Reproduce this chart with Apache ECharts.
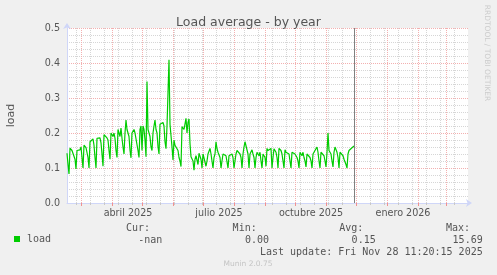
<!DOCTYPE html>
<html><head><meta charset="utf-8">
<script src="https://cdn.jsdelivr.net/npm/echarts@6/dist/echarts.min.js"></script>
<style>html,body{margin:0;padding:0;background:#f0f0f0}#c{width:497px;height:275px}</style>
</head><body><div id="c"></div>
<script>
// ---- data ----
const startDate = '2025-02-14';          // first daily sample
const loadValues = [
  0.142,0.11,0.083,0.157,0.155,0.15,0.152,0.145,0.125,0.097,
  0.15,0.155,0.148,0.152,0.16,0.13,0.1,0.165,0.17,0.158,
  0.16,0.13,0.1,0.175,0.18,0.17,0.183,0.165,0.13,0.1,
  0.185,0.19,0.18,0.186,0.172,0.14,0.105,0.195,0.19,0.198,
  0.186,0.18,0.15,0.125,0.2,0.195,0.19,0.2,0.185,0.15,
  0.13,0.21,0.2,0.19,0.214,0.185,0.16,0.14,0.2,0.237,
  0.21,0.2,0.19,0.151,0.129,0.2,0.205,0.21,0.2,0.205,
  0.195,0.15,0.13,0.21,0.22,0.15,0.22,0.21,0.18,0.132,
  0.347,0.21,0.205,0.19,0.16,0.15,0.2,0.22,0.237,0.21,
  0.2,0.161,0.14,0.225,0.23,0.225,0.23,0.22,0.175,0.155,
  0.22,0.225,0.409,0.225,0.22,0.16,0.123,0.18,0.165,0.17,
  0.16,0.15,0.13,0.12,0.104,0.218,0.22,0.21,0.215,0.242,
  0.2,0.23,0.24,0.17,0.132,0.13,0.12,0.094,0.125,0.135,
  0.14,0.11,0.142,0.145,0.125,0.1,0.14,0.142,0.14,0.105,
  0.12,0.14,0.145,0.156,0.14,0.12,0.1,0.13,0.14,0.175,
  0.155,0.145,0.15,0.13,0.1,0.1,0.14,0.135,0.14,0.135,
  0.13,0.1,0.135,0.14,0.135,0.14,0.13,0.1,0.12,0.14,
  0.15,0.148,0.145,0.14,0.13,0.1,0.14,0.16,0.175,0.17,
  0.175,0.14,0.1,0.14,0.145,0.152,0.14,0.13,0.1,0.13,
  0.145,0.14,0.135,0.145,0.12,0.1,0.14,0.142,0.13,0.105,
  0.156,0.15,0.155,0.148,0.156,0.1,0.13,0.155,0.156,0.145,
  0.13,0.1,0.156,0.155,0.15,0.14,0.135,0.1,0.152,0.145,
  0.14,0.15,0.14,0.12,0.1,0.145,0.15,0.145,0.14,0.135,
  0.13,0.12,0.1,0.145,0.14,0.135,0.145,0.13,0.12,0.103,
  0.14,0.145,0.14,0.13,0.12,0.1,0.14,0.145,0.15,0.155,
  0.16,0.145,0.12,0.1,0.145,0.147,0.14,0.135,0.12,0.103,
  0.145,0.2,0.15,0.145,0.14,0.12,0.103,0.145,0.16,0.155,
  0.145,0.13,0.1,0.145,0.15,0.14,0.135,0.125,0.12,0.11,
  0.1,0.14,0.15,0.152,0.155,0.158,0.161,0.163
];
const axisStart = '2025-02-14';
const axisEnd = '2026-03-22';
const nowDate = '2025-11-28';
const monthStarts = ['2025-03-01','2025-04-01','2025-05-01','2025-06-01','2025-07-01','2025-08-01',
  '2025-09-01','2025-10-01','2025-11-01','2025-12-01','2026-01-01','2026-02-01','2026-03-01'];
const gridMondays = ['2025-02-24','2025-03-10','2025-03-24','2025-04-07','2025-04-21','2025-05-05',
  '2025-05-19','2025-06-02','2025-06-16','2025-06-30','2025-07-14','2025-07-28','2025-08-11',
  '2025-08-25','2025-09-08','2025-09-22','2025-10-06','2025-10-20','2025-11-03','2025-11-17',
  '2025-12-15','2025-12-29','2026-01-12','2026-01-26','2026-02-09','2026-02-23','2026-03-09'];
const labelDates = ['2025-04-16','2025-07-16','2025-10-16','2026-01-16'];
const labelTexts = ['abril 2025','julio 2025','octubre 2025','enero 2026'];
const yTicks = [0, 0.1, 0.2, 0.3, 0.4, 0.5];
const statHeads = ['Cur:','Min:','Avg:','Max:'];
const statValues = ['-nan','0.00','0.15','15.69'];
const lastUpdate = 'Last update: Fri Nov 28 11:20:15 2025';

// ---- helpers ----
const H = 3600e3, DAY = 24 * H;
const ts = s => Date.parse(s);
const xMin = ts(axisStart) + 12 * H;
const xMax = ts(axisEnd) + 12 * H;
const seriesData = loadValues.map((v, i) => [ts(startDate) + i * DAY + 12 * H, v]);
const labelTs = labelDates.map(s => ts(s) + 12 * H);
const nowTs = ts(nowDate) + 11.33 * H;

const chart = echarts.init(document.getElementById('c'), null, {renderer: 'canvas'});
const FONT = 'DejaVu Sans';
const MONO = 'DejaVu Sans Mono';
const AXISC = '#cfd6f8';
const MAJ = '#f3b0b0';
const MIN = '#d6d6d6';

const statX = [150, 256.7, 363.3, 470];
const valX = [162.3, 269, 375.7, 482.7];
const graphics = [];
statHeads.forEach((t, i) => graphics.push({type: 'text', silent: true,
  style: {text: t, x: statX[i], y: 228, textAlign: 'right', textVerticalAlign: 'middle',
    font: '10px "' + MONO + '"', fill: '#555'}}));
statValues.forEach((t, i) => graphics.push({type: 'text', silent: true,
  style: {text: t, x: valX[i], y: 240, textAlign: 'right', textVerticalAlign: 'middle',
    font: '10px "' + MONO + '"', fill: '#555'}}));
graphics.push({type: 'text', silent: true,
  style: {text: lastUpdate, x: 482.7, y: 252, textAlign: 'right', textVerticalAlign: 'middle',
    font: '10px "' + MONO + '"', fill: '#555'}});
graphics.push({type: 'text', silent: true,
  style: {text: 'Munin 2.0.75', x: 248, y: 264, textAlign: 'center', textVerticalAlign: 'middle',
    font: '7.5px "' + FONT + '"', fill: '#c4c4c4'}});
graphics.push({type: 'text', silent: true, x: 487.3, y: 53, rotation: -Math.PI / 2,
  style: {text: 'RRDTOOL / TOBI OETIKER', x: 0, y: 0, textAlign: 'center', textVerticalAlign: 'middle',
    font: '7.5px "' + FONT + '"', fill: '#cccccc'}});

chart.setOption({
  animation: false,
  backgroundColor: '#f0f0f0',
  title: {text: 'Load average - by year', left: 'center', top: 11,
    textStyle: {fontFamily: FONT, fontSize: 12.5, fontWeight: 'normal', color: '#555'}},
  legend: {data: ['load'], left: 14, top: 234, padding: 0, icon: 'rect', itemWidth: 6, itemHeight: 6,
    textStyle: {fontFamily: MONO, fontSize: 10, color: '#555', padding: [0, 0, 0, 2]}},
  grid: {left: 67, top: 28, width: 401, height: 175, show: true, backgroundColor: '#ffffff', borderWidth: 0,
    containLabel: false, outerBoundsMode: 'none'},
  xAxis: [
    {type: 'value', position: 'bottom', min: xMin, max: xMax, gridIndex: 0,
      axisLine: {show: false},
      axisTick: {show: true, customValues: gridMondays.map(ts), length: 2, lineStyle: {color: '#c8c8c8'}},
      axisLabel: {show: false},
      splitLine: {show: true, lineStyle: {color: MIN, width: 1, type: [1, 1]}}},
    {type: 'value', position: 'bottom', min: xMin, max: xMax, gridIndex: 0,
      axisLine: {show: true, onZero: false, lineStyle: {color: AXISC, width: 1}, symbol: ['none', 'arrow'],
        symbolSize: [6, 6], symbolOffset: [0, 4]},
      axisTick: {show: true, customValues: monthStarts.map(ts), length: 3, lineStyle: {color: '#f09090'}},
      axisLabel: {show: true, customValues: labelTs, margin: 5, fontFamily: FONT, fontSize: 9.6, color: '#555',
        formatter: (v) => {
          let best = -1, bd = Infinity;
          labelTs.forEach((t, i) => { const d = Math.abs(t - v); if (d < bd) { bd = d; best = i; } });
          return bd < DAY ? labelTexts[best] : '';
        }},
      splitLine: {show: true, lineStyle: {color: MAJ, width: 1, type: [1, 1]}}}
  ],
  yAxis: {type: 'value', min: yTicks[0], max: yTicks[yTicks.length - 1], interval: 0.1,
    name: 'load', nameLocation: 'middle', nameRotate: 90, nameGap: 50,
    nameTextStyle: {fontFamily: FONT, fontSize: 11, color: '#555'},
    axisLine: {show: true, lineStyle: {color: AXISC, width: 1}, symbol: ['none', 'arrow'],
      symbolSize: [6, 6], symbolOffset: [0, 5]},
    axisTick: {show: false},
    axisLabel: {margin: 7, fontFamily: FONT, fontSize: 9.6, color: '#555', formatter: v => v.toFixed(1)},
    splitLine: {show: true, lineStyle: {color: MAJ, width: 1, type: [1, 1]}},
    minorTick: {show: false, splitNumber: 5},
    minorSplitLine: {show: true, lineStyle: {color: MIN, width: 1, type: [1, 1]}}},
  series: [{
    name: 'load', type: 'line', xAxisIndex: 1, data: seriesData, showSymbol: false, symbol: 'none',
    color: '#00cc00', lineStyle: {color: '#00cc00', width: 1.2}, clip: true, z: 5,
    markLine: {silent: true, symbol: ['none', 'none'], label: {show: false}, z: 6,
      lineStyle: {color: '#808080', width: 1, type: 'solid'},
      emphasis: {disabled: true},
      data: [{xAxis: nowTs}]}
  }],
  graphic: graphics
});
</script></body></html>
